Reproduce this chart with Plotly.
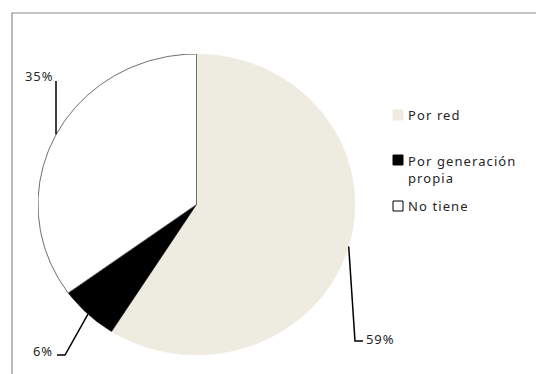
import math
import plotly.graph_objects as go

categories = ["Por red", "Por generación propia", "No tiene"]
legend_labels = ["Por red", "Por generación<br>propia", "No tiene"]
values = [59, 6, 35]
pct_labels = ["59%", "6%", "35%"]
colors = ["#EEEBE0", "#000000", "#FFFFFF"]
edge_colors = ["#EEEBE0", "#000000", "#4a4a4a"]
edge_widths = [0, 0, 0.8]

W, H = 536, 374
# pie ellipse box in pixels (layout)
LEFT, RIGHT, TOP, BOTTOM = 38, 355, 54, 355
CX, CY = (LEFT + RIGHT) / 2, (TOP + BOTTOM) / 2
RX, RY = (RIGHT - LEFT) / 2, (BOTTOM - TOP) / 2

def px(x):
    return x / W

def py(y):
    return 1 - y / H

FONT = "Noto Sans"
TXT = "#262626"

def spaced(t, ls=1.0):
    return f'<span style="letter-spacing:{ls}px">{t}</span>'

fig = go.Figure()
total = sum(values)
cum = 0
mids = []
for name, v, col, ec, ew in zip(categories, values, colors, edge_colors, edge_widths):
    a0 = cum / total * 2 * math.pi
    a1 = (cum + v) / total * 2 * math.pi
    mids.append((a0 + a1) / 2)
    cum += v
    n = max(3, int(v * 4))
    angs = [a0 + (a1 - a0) * i / n for i in range(n + 1)]
    xs = [0] + [math.sin(a) for a in angs] + [0]
    ys = [0] + [math.cos(a) for a in angs] + [0]
    fig.add_trace(go.Scatter(x=xs, y=ys, mode="lines", fill="toself", fillcolor=col,
                             line=dict(color=ec if ew > 0 else col, width=ew if ew > 0 else 0.5),
                             name=name, hoveron="fills", hoverinfo="name", showlegend=False))

# leader lines + labels: anchor on the arc computed from the data
label_layout = [
    dict(path=[(355, 341), (363, 341)], label=(364, 339), xanchor="left"),
    dict(path=[(65, 355), (57, 355)], label=(55, 351), xanchor="right"),
    dict(path=[(56, 81)], label=(55, 76), xanchor="right"),
]
shapes = []
annotations = []
for mid, lab, lay in zip(mids, pct_labels, label_layout):
    ax = CX + RX * math.sin(mid)
    ay = CY - RY * math.cos(mid)
    if lab == "35%":
        pts = [(56, ay - 2)] + lay["path"]
    else:
        pts = [(ax, ay)] + lay["path"]
    d = "M " + " L ".join(f"{px(x):.5f},{py(y):.5f}" for x, y in pts)
    shapes.append(dict(type="path", xref="paper", yref="paper", path=d,
                       line=dict(color="#000000", width=1.5)))
    annotations.append(dict(x=px(lay["label"][0]), y=py(lay["label"][1]), xref="paper", yref="paper",
                            text=spaced(lab, 0.9), showarrow=False, xanchor=lay["xanchor"], yanchor="middle",
                            font=dict(family=FONT, size=13, color=TXT)))

# manual legend
legend_y = [115, 160, 206]
for lab, col, yy in zip(legend_labels, colors, legend_y):
    shapes.append(dict(type="rect", xref="paper", yref="paper",
                       x0=px(393), x1=px(403), y0=py(yy + 5), y1=py(yy - 5),
                       fillcolor=col, line=dict(color="#000000" if col == "#FFFFFF" else col, width=1)))
    if "<br>" in lab:
        parts = lab.split("<br>")
        txt = "<br>".join(spaced(p, 1.1) for p in parts)
    else:
        txt = spaced(lab, 1.1)
    annotations.append(dict(x=px(406), y=py(yy), xref="paper", yref="paper", text=txt,
                            showarrow=False, xanchor="left", yanchor="top" if "<br>" in lab else "middle",
                            yshift=10 if "<br>" in lab else 0, align="left",
                            font=dict(family=FONT, size=13, color=TXT)))

# chart frame
shapes.append(dict(type="rect", xref="paper", yref="paper", x0=px(12), x1=px(W + 5),
                   y0=py(H + 5), y1=py(13), line=dict(color="#8c8c8c", width=1.2), layer="below"))

fig.update_layout(width=W, height=H, margin=dict(l=0, r=0, t=0, b=0),
                  paper_bgcolor="white", plot_bgcolor="rgba(0,0,0,0)",
                  xaxis=dict(domain=[px(LEFT), px(RIGHT)], range=[-1, 1], visible=False, fixedrange=True),
                  yaxis=dict(domain=[py(BOTTOM), py(TOP)], range=[-1, 1], visible=False, fixedrange=True),
                  shapes=shapes, annotations=annotations, hovermode="closest")
fig.write_html("out.html")
